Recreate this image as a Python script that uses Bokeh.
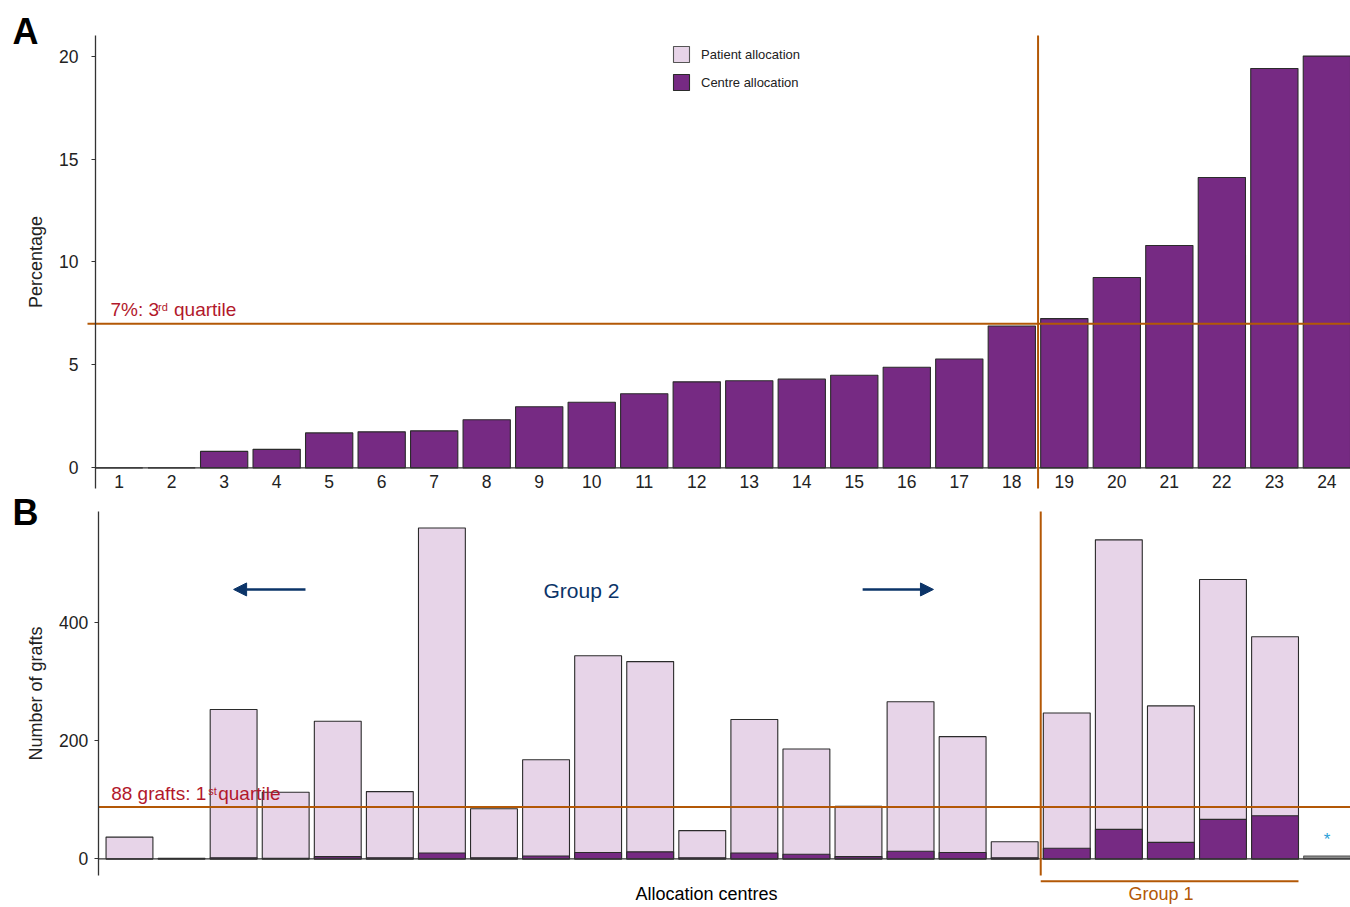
from bokeh.plotting import figure
from bokeh.models import (Range1d, FixedTicker, Label, Arrow, NormalHead,
                          Legend, LegendItem)
from bokeh.core.properties import value
from bokeh.layouts import column
from bokeh.embed import file_html
from bokeh.resources import INLINE

# ---------------- data ----------------
centres = list(range(1, 25))
centre_pct = [0.0, 0.0, 0.8, 0.9, 1.7, 1.75, 1.8, 2.34, 2.97, 3.19, 3.6, 4.18,
              4.23, 4.31, 4.5, 4.89, 5.29, 6.89, 7.25, 9.25, 10.8, 14.1, 19.4, 20.0]
total_grafts = [37, 1, 253, 113, 233, 114, 560, 85, 168, 344, 334, 48,
                236, 186, 89, 266, 207, 29, 247, 540, 259, 473, 376, 5]
centre_grafts = [0, 0, 2, 1, 4, 2, 10, 2, 5, 11, 12, 2,
                 10, 8, 4, 13, 11, 2, 18, 50, 28, 67, 73, 1]
excluded_centres = [24]
pct_ticks = [0, 5, 10, 15, 20]
graft_ticks = [0, 200, 400]
q3_pct = 7
q1_grafts = 88
group_cut = 18.5
group1_last = 23

# ---------------- styles ----------------
FONT = "Liberation Sans"
PURPLE = "#762A83"
LIGHT = "#E7D4E8"
OUTLINE = "#2B2B2B"
ORANGE = "#B35806"
RED = "#B2182B"
NAVY = "#0B3468"
STAR = "#2A9FD8"
GRAY = "#8C8C8C"
AXIS = "#333333"
TEXT = "#222222"
BAR_W = 0.9
BASELINE_FIX = 0.365   # em; compensates the svg text baseline placement


def style_common(p):
    p.outline_line_color = None
    p.grid.visible = False
    p.background_fill_color = "white"
    p.border_fill_color = "white"
    ax = p.yaxis[0]
    ax.axis_line_color = AXIS
    ax.axis_line_width = 1.3
    ax.major_tick_line_color = AXIS
    ax.major_tick_line_width = 1.2
    ax.major_tick_out = 4
    ax.major_tick_in = 0
    ax.minor_tick_line_color = None
    ax.major_label_text_font = FONT
    ax.major_label_text_font_size = "17.5px"
    ax.major_label_text_color = TEXT
    ax.axis_label_text_font = FONT
    ax.axis_label_text_font_size = "18px"
    ax.axis_label_text_font_style = "normal"
    ax.axis_label_text_color = TEXT
    ax.axis_label_standoff = 10


def label(p, x, y, text, size, color, align="left", x_off=0, y_off=0, bold=False):
    px = float(size.replace("px", ""))
    p.add_layout(Label(x=x, y=y, x_offset=x_off, y_offset=y_off + BASELINE_FIX * px,
                       text=text, text_font=FONT, text_font_size=size, text_color=color,
                       text_baseline="alphabetic", text_align=align,
                       text_font_style="bold" if bold else "normal"))


# ---------------- panel A ----------------
A_AX_X, A_END = 0.55, 24.45
A_LO, A_HI = -1.0, 21.0
pA = figure(frame_width=1350, frame_height=492,
            x_range=Range1d(-1.259, A_END), y_range=Range1d(-1.195, 22.70),
            output_backend="svg", toolbar_location=None, x_axis_location=None,
            min_border_left=0, min_border_right=0, min_border_top=0,
            min_border_bottom=0)
style_common(pA)

rA = pA.vbar(x=centres, top=centre_pct, width=BAR_W, fill_color=PURPLE,
             line_color=OUTLINE, line_width=1.1)
r_patient_key = pA.vbar(x=centres, top=centre_pct, width=BAR_W, fill_color=LIGHT,
                        line_color="#555555", line_width=1.1, visible=False)

pA.yaxis.ticker = FixedTicker(ticks=pct_ticks)
pA.yaxis.major_label_standoff = 13
pA.yaxis.axis_label = "Percentage"
pA.yaxis.fixed_location = A_AX_X
pA.yaxis.bounds = (A_LO, A_HI)

# x tick labels (centre numbers)
pA.text(x=centres, y=[-0.67] * len(centres), text=[str(c) for c in centres],
        text_font=value(FONT), text_font_size="17.5px", text_color=TEXT,
        text_align="center", text_baseline="alphabetic")

# reference lines
pA.segment(x0=[A_AX_X], y0=[0], x1=[A_END], y1=[0], line_color=AXIS, line_width=1.3)
pA.segment(x0=[0.398], y0=[q3_pct], x1=[A_END], y1=[q3_pct], line_color=ORANGE, line_width=2)
pA.segment(x0=[group_cut], y0=[A_LO], x1=[group_cut], y1=[A_HI], line_color=ORANGE, line_width=2)

label(pA, 0.836, 7.353, "7%: 3", "19px", RED)
label(pA, 0.836, 7.353, "rd", "11px", RED, x_off=47.5, y_off=5.5)
label(pA, 0.836, 7.353, "quartile", "19px", RED, x_off=63.5)
label(pA, -1.030, 20.563, "A", "36px", "black", bold=True)

legend = Legend(items=[LegendItem(label="Patient allocation", renderers=[r_patient_key]),
                       LegendItem(label="Centre allocation", renderers=[rA])],
                location=(671, 400), padding=0, margin=0, spacing=8,
                glyph_width=20, glyph_height=20, label_height=20, label_standoff=10,
                label_text_font=FONT, label_text_font_size="13px", label_text_color=TEXT,
                border_line_color=None, background_fill_alpha=0,
                inactive_fill_alpha=0)
pA.add_layout(legend)

# ---------------- panel B ----------------
B_AX_X, B_END = 0.4, 24.449
B_LO, B_HI = -28, 588
pB = figure(frame_width=1350, frame_height=415,
            x_range=Range1d(-1.477, B_END), y_range=Range1d(-82.15, 620.15),
            output_backend="svg", toolbar_location=None, x_axis_location=None,
            min_border_left=0, min_border_right=0, min_border_top=0,
            min_border_bottom=0)
style_common(pB)

x_inc = [c for c in centres if c not in excluded_centres]
tot_inc = [t for c, t in zip(centres, total_grafts) if c not in excluded_centres]
cen_inc = [n for c, n in zip(centres, centre_grafts) if c not in excluded_centres]
x_exc = [c for c in centres if c in excluded_centres]
tot_exc = [t for c, t in zip(centres, total_grafts) if c in excluded_centres]

pB.vbar(x=x_inc, top=tot_inc, width=BAR_W, fill_color=LIGHT, line_color=OUTLINE, line_width=1.1)
pB.vbar(x=x_inc, top=cen_inc, width=BAR_W, fill_color=PURPLE, line_color=OUTLINE, line_width=1.1)
pB.vbar(x=x_exc, top=tot_exc, width=BAR_W, fill_color=GRAY, line_color="#555555", line_width=1.1)

pB.yaxis.ticker = FixedTicker(ticks=graft_ticks)
pB.yaxis.major_label_standoff = 6
pB.yaxis.axis_label = "Number of grafts"
pB.yaxis.fixed_location = B_AX_X
pB.yaxis.bounds = (B_LO, B_HI)

pB.segment(x0=[B_AX_X], y0=[0], x1=[B_END], y1=[0], line_color=AXIS, line_width=1.3)
pB.segment(x0=[B_AX_X], y0=[q1_grafts], x1=[B_END], y1=[q1_grafts], line_color=ORANGE, line_width=2)
pB.segment(x0=[group_cut], y0=[B_LO], x1=[group_cut], y1=[B_HI], line_color=ORANGE, line_width=2)
# Group 1 bracket under the axis
pB.segment(x0=[group_cut], y0=[-37.6], x1=[group1_last + BAR_W / 2], y1=[-37.6],
           line_color=ORANGE, line_width=2)

label(pB, 0.649, 99.0, "88 grafts: 1", "19px", RED)
label(pB, 0.649, 99.0, "st", "11px", RED, x_off=97, y_off=5.5)
label(pB, 0.649, 99.0, "quartile", "19px", RED, x_off=107)

label(pB, 9.68, 442.0, "Group 2", "21px", NAVY, align="center")
pB.add_layout(Arrow(end=NormalHead(size=13, fill_color=NAVY, line_color=NAVY),
                    x_start=4.38, y_start=456.1, x_end=3.0, y_end=456.1,
                    line_color=NAVY, line_width=2.5))
pB.add_layout(Arrow(end=NormalHead(size=13, fill_color=NAVY, line_color=NAVY),
                    x_start=15.08, y_start=456.1, x_end=16.44, y_end=456.1,
                    line_color=NAVY, line_width=2.5))

label(pB, x_exc[0], 21.7, "*", "17px", STAR, align="center")
label(pB, 20.81, -70.6, "Group 1", "18px", ORANGE, align="center")
label(pB, 12.08, -70.6, "Allocation centres", "18px", "black", align="center")
label(pB, -1.247, 563.6, "B", "36px", "black", bold=True)

layout = column(pA, pB, spacing=0)
open("out.html", "w").write(file_html(layout, INLINE))
